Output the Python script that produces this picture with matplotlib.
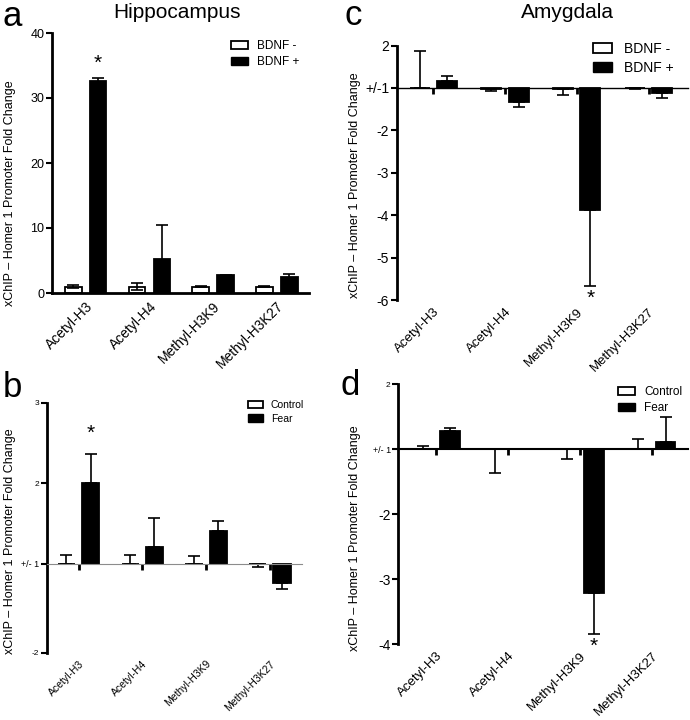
import numpy as np
import matplotlib
matplotlib.use("Agg")
import matplotlib.pyplot as plt
import matplotlib.transforms as mtransforms
from matplotlib.patches import Patch

plt.rcParams['font.family'] = ['Liberation Sans', 'DejaVu Sans']

categories = ["Acetyl-H3", "Acetyl-H4", "Methyl-H3K9", "Methyl-H3K27"]

# Panel a (Hippocampus, BDNF) - linear fold change
a_labels = ["BDNF -", "BDNF +"]
a_minus = [1.0, 1.0, 1.0, 1.0]
a_minus_err = [0.25, 0.5, 0.1, 0.1]
a_plus = [32.6, 5.3, 2.7, 2.5]
a_plus_err = [0.5, 5.2, 0.1, 0.5]

# Panel b (Hippocampus, fear) - signed fold change (+/-1 baseline)
b_labels = ["Control", "Fear"]
b_ctrl = [1.0, 1.0, 1.0, -1.0]
b_ctrl_err = [0.11, 0.11, 0.10, 0.04]
b_fear = [2.0, 1.21, 1.41, -1.24]
b_fear_err = [0.37, 0.36, 0.12, 0.07]

# Panel c (Amygdala, BDNF)
c_labels = ["BDNF -", "BDNF +"]
c_minus = [1.0, -1.02, -1.02, -1.01]
c_minus_err = [0.88, 0.05, 0.14, 0.02]
c_plus = [1.17, -1.34, -3.88, -1.13]
c_plus_err = [0.12, 0.10, 1.79, 0.10]

# Panel d (Amygdala, fear)
d_labels = ["Control", "Fear"]
d_ctrl = [1.0, -1.0, -1.0, 1.0]
d_ctrl_err = [0.055, 0.37, 0.15, 0.16]
d_fear = [1.28, -1.0, -3.21, 1.11]
d_fear_err = [0.05, 0.0, 0.64, 0.39]

W, H = 690, 720
fig = plt.figure(figsize=(W / 100, H / 100), dpi=100)


def px_axes(x0, x1, ytop, ybot):
    return fig.add_axes([x0 / W, 1 - ybot / H, (x1 - x0) / W, (ybot - ytop) / H])


def to_offset(fc):
    fc = np.asarray(fc, dtype=float)
    return np.where(fc >= 0, fc - 1.0, fc + 1.0)


def draw_pair(ax, v1, e1, v2, e2, width, off, signed, cap):
    x = np.arange(len(categories))
    for vals, errs, dx, fc in ((v1, e1, -off, 'white'), (v2, e2, off, 'black')):
        vals = np.asarray(vals, float)
        errs = np.asarray(errs, float)
        if signed:
            h = to_offset(vals)
            direction = np.where(vals >= 0, 1.0, -1.0)
            ax.bar(x + dx, h, width, color=fc, edgecolor='black', linewidth=1.3, zorder=2)
            for xi, hi, ei, di in zip(x + dx, h, errs, direction):
                if ei <= 0:
                    continue
                lo = [[0], [ei]] if di > 0 else [[ei], [0]]
                ax.errorbar([xi], [hi], yerr=lo, fmt='none', ecolor='black',
                            elinewidth=1.2, capsize=cap, capthick=1.2, zorder=1)
        else:
            ax.errorbar(x + dx, vals, yerr=errs, fmt='none', ecolor='black',
                        elinewidth=1.2, capsize=cap, capthick=1.2, zorder=3 if fc == 'white' else 1)
            ax.bar(x + dx, vals, width, color=fc, edgecolor='black', linewidth=1.3, zorder=2)


def style(ax, xlim, ylim, yticks, ylabels, ysizes, xlab_size, base_color, base_lw, tick_len, signed):
    ax.set_xlim(*xlim)
    ax.set_ylim(*ylim)
    for s in ('top', 'right'):
        ax.spines[s].set_visible(False)
    ax.spines['left'].set_linewidth(2)
    ax.spines['bottom'].set_color(base_color)
    ax.spines['bottom'].set_linewidth(base_lw)
    if signed:
        ax.spines['bottom'].set_position(('data', 0))
    ax.set_yticks(yticks)
    ax.set_yticklabels(ylabels)
    for t, s in zip(ax.get_yticklabels(), ysizes):
        t.set_fontsize(s)
    ax.tick_params(axis='y', direction='out', length=4, width=1.5, pad=1.5)
    ax.set_xticks(np.arange(len(categories)))
    ax.tick_params(axis='x', direction='out', length=tick_len, width=2, labelbottom=False, color='black')
    trans = mtransforms.blended_transform_factory(ax.transData, ax.transAxes)
    trans = trans + mtransforms.ScaledTranslation(0, -6 / 100, fig.dpi_scale_trans)
    for i, c in enumerate(categories):
        ax.text(i, 0, c, transform=trans, rotation=45, ha='right', va='top',
                rotation_mode='anchor', fontsize=xlab_size)
    ax.set_facecolor('none')


def legend(ax, labels, x, y, fs):
    handles = [Patch(facecolor='white', edgecolor='black', linewidth=1.3),
               Patch(facecolor='black', edgecolor='black')]
    ax.legend(handles, labels, loc='upper left', bbox_to_anchor=(x / W, 1 - y / H),
              bbox_transform=fig.transFigure, frameon=False, fontsize=fs,
              borderpad=0, borderaxespad=0, handlelength=1.4, handleheight=0.7,
              handletextpad=0.8, labelspacing=0.35)


YL = "xChIP \u2013 Homer 1 Promoter Fold Change"

# Panel a
ax = px_axes(52, 309.3, 33, 293)
draw_pair(ax, a_minus, a_minus_err, a_plus, a_plus_err, 0.26, 0.195, False, 4.5)
style(ax, (-0.53, 3.51), (0, 40), [0, 10, 20, 30, 40], ['0', '10', '20', '30', '40'],
      [9] * 5, 10, 'black', 2, 0, False)
ax.text(0.195, 35.4, '*', ha='center', va='center', fontsize=15)
legend(ax, a_labels, 231, 40, 8.5)

# Panel b
ax = px_axes(46.7, 301.7, 402.7, 652.7)
draw_pair(ax, b_ctrl, b_ctrl_err, b_fear, b_fear_err, 0.27, 0.19, True, 4)
style(ax, (-0.5, 3.5), (-1.1, 2), [2, 1, 0, -1.1], ['3', '2', '+/- 1', '-2'],
      [6, 6, 6.5, 6], 7.5, '0.55', 0.8, 4, True)
ax.text(0.19, 1.62, '*', ha='center', va='center', fontsize=15)
legend(ax, b_labels, 248, 400, 7.5)

# Panel c
ax = px_axes(396.7, 688, 45.5, 300)
draw_pair(ax, c_minus, c_minus_err, c_plus, c_plus_err, 0.28, 0.19, True, 4.5)
style(ax, (-0.51, 3.55), (-5, 1), [1, 0, -1, -2, -3, -4, -5],
      ['2', '+/-1', '-2', '-3', '-4', '-5', '-6'], [10] * 7, 9.5, 'black', 1, 4, True)
t = ax.text(2.19, -4.95, '*', ha='center', va='center', fontsize=15)
t.set_clip_on(False)
legend(ax, c_labels, 593, 42, 10)

# Panel d
ax = px_axes(398.3, 688, 384.4, 644)
draw_pair(ax, d_ctrl, d_ctrl_err, d_fear, d_fear_err, 0.27, 0.19, True, 4.5)
style(ax, (-0.53, 3.5), (-3, 1), [1, 0, -1, -2, -3], ['2', '+/- 1', '-2', '-3', '-4'],
      [6, 6.5, 10, 10, 10], 9.5, 'black', 1.5, 4, True)
t = ax.text(2.19, -3.03, '*', ha='center', va='center', fontsize=15)
t.set_clip_on(False)
legend(ax, d_labels, 618, 386, 8.5)

# y labels
for (x, y) in ((10, 193), (10, 541), (355, 185), (355, 538)):
    fig.text(x / W, 1 - y / H, YL, rotation=90, ha='center', va='center', fontsize=9)

# titles and panel letters
fig.text(177 / W, 1 - 12 / H, "Hippocampus", ha='center', va='center', fontsize=15)
fig.text(567 / W, 1 - 12 / H, "Amygdala", ha='center', va='center', fontsize=15)
for (x, y, s) in ((3, 26, 'a'), (3, 397, 'b'), (344, 25, 'c'), (340, 395, 'd')):
    fig.text(x / W, 1 - y / H, s, ha='left', va='baseline', fontsize=25)

fig.savefig("out.png", dpi=100)
